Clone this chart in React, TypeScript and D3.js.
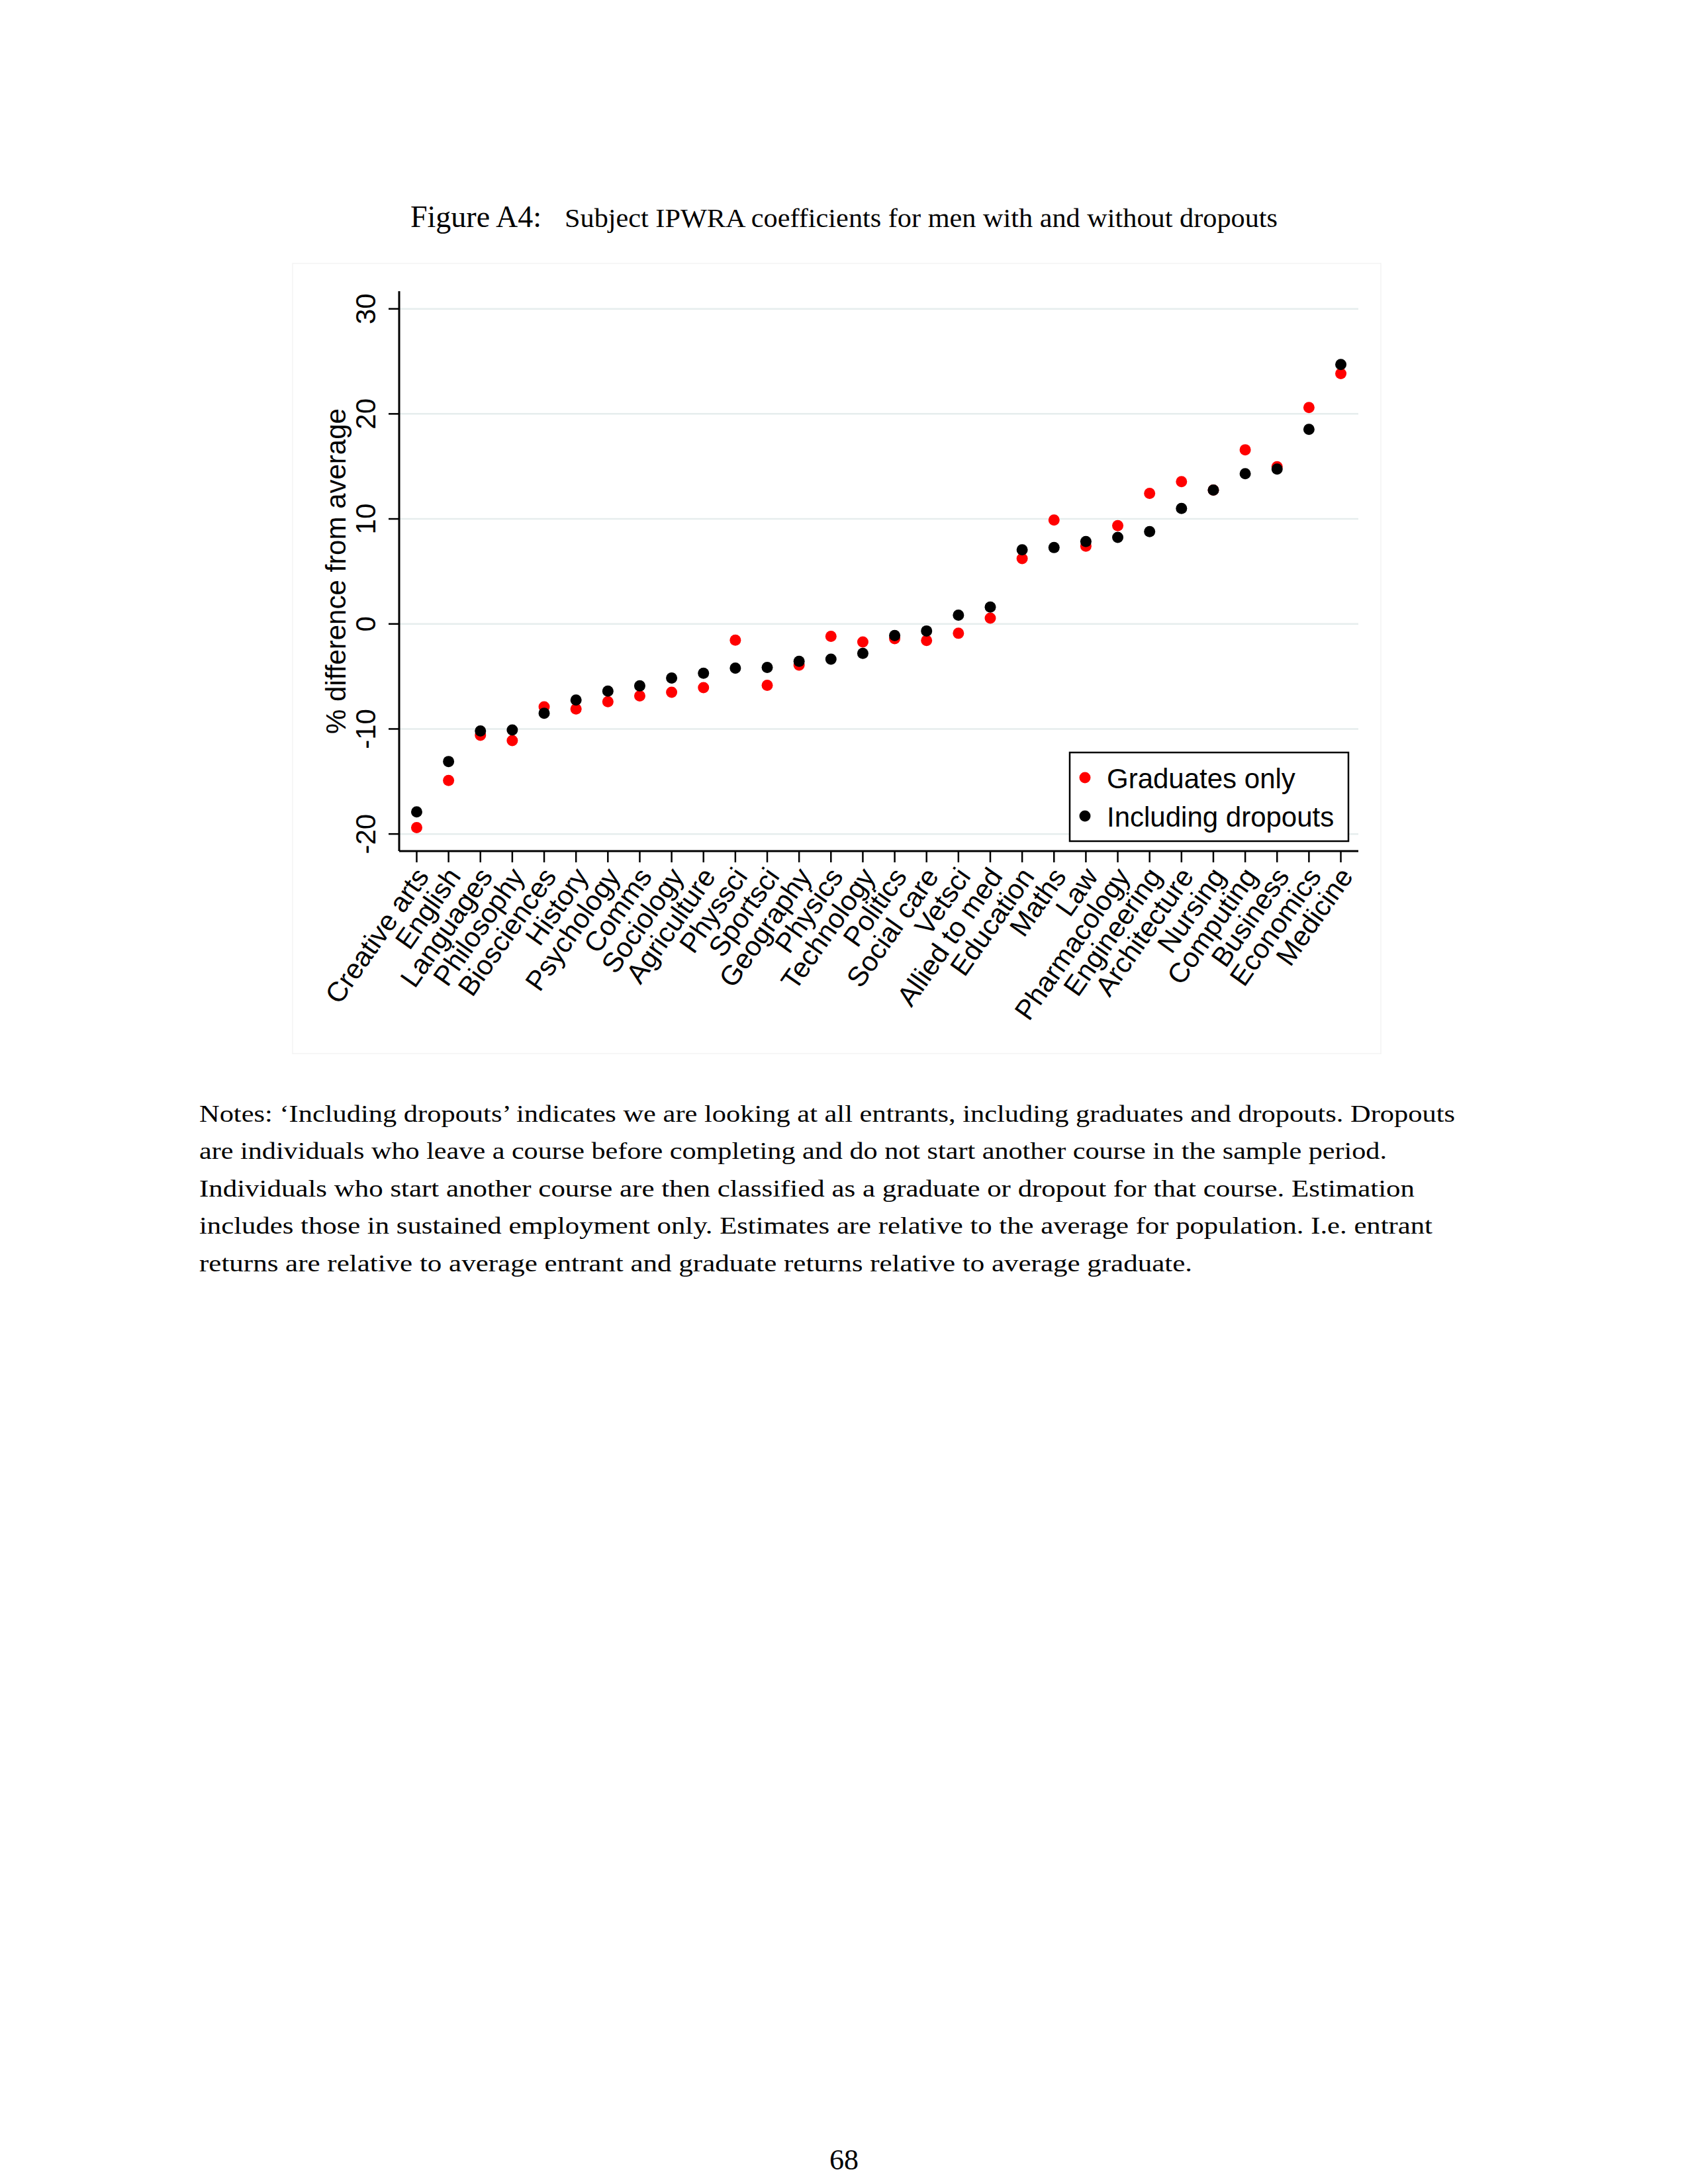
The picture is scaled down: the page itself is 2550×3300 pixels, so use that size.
import React from "react";
import * as d3 from "d3";

const categories = [
  "Creative arts", "English", "Languages", "Philosophy", "Biosciences", "History",
  "Psychology", "Comms", "Sociology", "Agriculture", "Physsci", "Sportsci",
  "Geography", "Physics", "Technology", "Politics", "Social care", "Vetsci",
  "Allied to med", "Education", "Maths", "Law", "Pharmacology", "Engineering",
  "Architecture", "Nursing", "Computing", "Business", "Economics", "Medicine",
];

const graduatesOnly = [
  -19.4, -14.9, -10.6, -11.1, -7.9, -8.1, -7.4, -6.85, -6.5, -6.06, -1.54, -5.84,
  -3.92, -1.18, -1.72, -1.4, -1.58, -0.89, 0.55, 6.22, 9.9, 7.41, 9.36, 12.43,
  13.55, 12.75, 16.58, 14.96, 20.6, 23.84,
];

const includingDropouts = [
  -17.9, -13.1, -10.2, -10.1, -8.5, -7.25, -6.4, -5.9, -5.15, -4.7, -4.2, -4.14,
  -3.56, -3.35, -2.8, -1.1, -0.67, 0.84, 1.6, 7.05, 7.27, 7.85, 8.24, 8.79,
  10.99, 12.75, 14.3, 14.74, 18.53, 24.7,
];

const yTicks = [-20, -10, 0, 10, 20, 30];

const seriesNames = ["Graduates only", "Including dropouts"];
const seriesColors = ["#ff0000", "#000000"];

const titleLabel = "Figure A4:";
const titleText = "Subject IPWRA coefficients for men with and without dropouts";
const yAxisTitle = "% difference from average";

const noteLines = [
  "Notes: \u2018Including dropouts\u2019 indicates we are looking at all entrants, including graduates and dropouts. Dropouts",
  "are individuals who leave a course before completing and do not start another course in the sample period.",
  "Individuals who start another course are then classified as a graduate or dropout for that course. Estimation",
  "includes those in sustained employment only. Estimates are relative to the average for population. I.e. entrant",
  "returns are relative to average entrant and graduate returns relative to average graduate.",
];
const noteLineEnds = [2198, 2095, 2137, 2164, 1801];
const pageNumber = "68";

const SANS = "'Liberation Sans', Arial, Helvetica, sans-serif";
const SERIF = "'Liberation Serif', 'DejaVu Serif', serif";

export default function App() {
  const plotLeft = 603;
  const plotRight = 2052;
  const plotTop = 440;
  const plotBottom = 1286;

  const x = d3.scalePoint<string>().domain(categories).range([plotLeft, plotRight]).padding(0.55);
  const y = d3.scaleLinear().domain([-21.63, 31.68]).range([plotBottom, plotTop]);

  const r = 8.5;
  const series = [graduatesOnly, includingDropouts];

  const noteX = 301;
  const noteBase = 1695;
  const noteStep = 56.4;

  return (
    <svg
      width={2550}
      height={3300}
      viewBox="0 0 2550 3300"
      style={{ position: "absolute", left: 0, top: 0, display: "block", background: "#ffffff" }}
    >
      <rect x={0} y={0} width={2550} height={3300} fill="#ffffff" />

      {/* Caption */}
      <text x={620} y={343} fontFamily={SERIF} fontSize={46} textLength={198} lengthAdjust="spacingAndGlyphs" fill="#000">
        {titleLabel}
      </text>
      <text x={853} y={343} fontFamily={SERIF} fontSize={39} textLength={1077} lengthAdjust="spacingAndGlyphs" fill="#000">
        {titleText}
      </text>

      {/* Graph region (faint) */}
      <rect x={442} y={398} width={1644} height={1194} fill="#ffffff" stroke="#f3f3f3" strokeWidth={1.5} />

      {/* Gridlines */}
      {yTicks.map((t) => (
        <line key={"g" + t} x1={plotLeft} x2={plotRight} y1={y(t)} y2={y(t)} stroke="#e6eded" strokeWidth={2.5} />
      ))}

      {/* Y axis */}
      <line x1={plotLeft} x2={plotLeft} y1={plotTop} y2={plotBottom} stroke="#000" strokeWidth={3} />
      {yTicks.map((t) => (
        <g key={"yt" + t}>
          <line x1={plotLeft - 16} x2={plotLeft} y1={y(t)} y2={y(t)} stroke="#000" strokeWidth={2.5} />
          <text
            transform={`translate(${567},${y(t)}) rotate(-90)`}
            textAnchor="middle"
            fontFamily={SANS}
            fontSize={42}
            fill="#000"
          >
            {t}
          </text>
        </g>
      ))}
      <text
        transform={`translate(${522},${(plotTop + plotBottom) / 2}) rotate(-90)`}
        textAnchor="middle"
        fontFamily={SANS}
        fontSize={42}
        fill="#000"
      >
        {yAxisTitle}
      </text>

      {/* X axis */}
      <line x1={plotLeft} x2={plotRight} y1={plotBottom} y2={plotBottom} stroke="#000" strokeWidth={3} />
      {categories.map((c) => (
        <g key={"xt" + c}>
          <line x1={x(c)!} x2={x(c)!} y1={plotBottom} y2={plotBottom + 17} stroke="#000" strokeWidth={2.5} />
          <text
            transform={`translate(${x(c)! + 8},${plotBottom + 30}) rotate(-55)`}
            textAnchor="end"
            dy="0.35em"
            fontFamily={SANS}
            fontSize={42}
            fill="#000"
          >
            {c}
          </text>
        </g>
      ))}

      {/* Points: red first, black on top */}
      {series.map((vals, si) => (
        <g key={"s" + si}>
          {vals.map((v, i) => (
            <circle key={i} cx={x(categories[i])!} cy={y(v)} r={r} fill={seriesColors[si]} />
          ))}
        </g>
      ))}

      {/* Legend */}
      <rect x={1616} y={1137} width={421} height={134} fill="#ffffff" stroke="#000" strokeWidth={2.5} />
      {seriesNames.map((n, i) => (
        <g key={"lg" + i}>
          <circle cx={1639} cy={1175 + i * 58} r={r} fill={seriesColors[i]} />
          <text x={1672} y={1191 + i * 58} fontFamily={SANS} fontSize={42} fill="#000">
            {n}
          </text>
        </g>
      ))}

      {/* Notes */}
      {noteLines.map((line, i) => (
        <text
          key={"n" + i}
          x={noteX}
          y={noteBase + i * noteStep}
          fontFamily={SERIF}
          fontSize={35}
          textLength={noteLineEnds[i] - noteX}
          lengthAdjust="spacingAndGlyphs"
          fill="#000"
        >
          {line}
        </text>
      ))}

      {/* Page number */}
      <text x={1275} y={3278} textAnchor="middle" fontFamily={SERIF} fontSize={44} fill="#000">
        {pageNumber}
      </text>
    </svg>
  );
}
